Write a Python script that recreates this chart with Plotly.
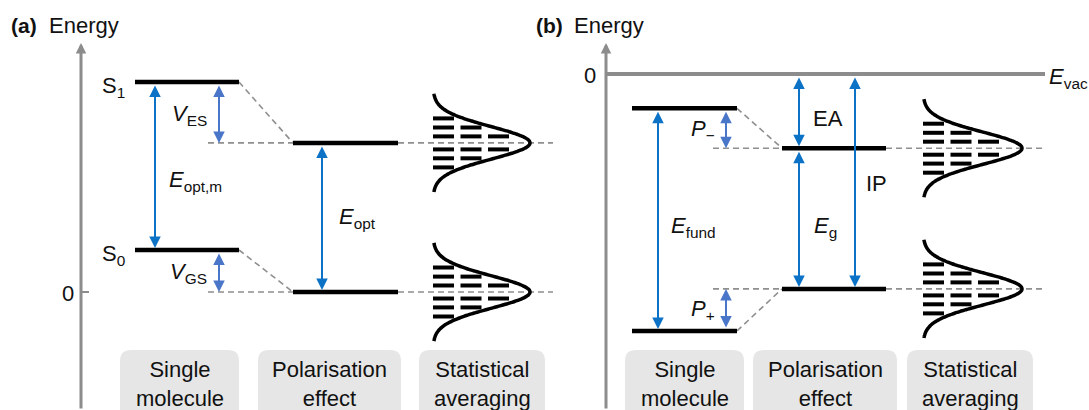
import numpy as np
import plotly.graph_objects as go

# ---------------- data (schematic energies, eV) ----------------
categories = ["Single<br>molecule", "Polarisation<br>effect", "Statistical<br>averaging"]

# (a) optical gap: isolated molecule vs. molecule in the polarisable solid
a_state_names = ["S<sub>0</sub>", "S<sub>1</sub>"]
a_single = [0.60, 3.00]          # S0, S1 of the single molecule
a_polarised = [0.00, 2.13]       # ground / excited state after polarisation

# (b) transport gap, measured from the vacuum level
b_vacuum = 0.0
b_single = [-3.67, -0.49]        # cation-like (IP) and anion-like (EA) levels, single molecule
b_polarised = [-3.07, -1.06]     # the same levels in the solid

# Gaussian density of states and the discrete sub-levels drawn inside it
dos_sigma = 0.23
dos_offsets = [0.35, 0.22, 0.093, -0.093, -0.22, -0.35]
dos_counts = [1, 2, 3, 3, 2, 1]

# ---------------- layout constants ----------------
W, H = 1089, 410
PX_PER_EV = 70.0
FONT = "Liberation Sans, Arial, Helvetica, sans-serif"
BLUE = "#0B72C6"
LIGHT_BLUE = "#4A76C9"
GREY = "#8C8C8C"
DASH_GREY = "#8F8F8F"
BOX_FILL = "#E6E6E6"
TXT = "#111111"

# vertical pixel position of each panel's energy zero
A_ZERO_PX, B_ZERO_PX = 292, 74

PANEL_A = dict(axis=81, single=(135, 239), pol=(293, 398), stub=208, dash_end=553,
               dos_base=433, dos_amp=97,
               boxes=[(120, 239), (258, 401), (419, 545)])
PANEL_B = dict(axis=606, single=(632, 737), pol=(782, 886), stub=713, dash_end=1045,
               dos_base=923, dos_amp=99,
               boxes=[(625, 744), (753, 897), (907, 1033)])


def yrange(zero_px):
    return [(zero_px - H) / PX_PER_EV, zero_px / PX_PER_EV]


def paper(py):
    return 1 - py / H


fig = go.Figure()


def segs(pairs):
    xs, ys = [], []
    for (x0, y0, x1, y1) in pairs:
        xs += [x0, x1, None]
        ys += [y0, y1, None]
    return xs, ys


def add_lines(pairs, yaxis, color, width, dash="solid"):
    xs, ys = segs(pairs)
    fig.add_trace(go.Scatter(x=xs, y=ys, yaxis=yaxis, mode="lines",
                             line=dict(color=color, width=width, dash=dash),
                             hoverinfo="skip", showlegend=False))


def add_arrow(x, e0, e1, yref, color, s0=0, s1=0):
    fig.add_annotation(x=x, y=e1, ax=x, ay=e0, xref="x", yref=yref, axref="x", ayref=yref,
                       text="", showarrow=True, arrowside="end+start",
                       arrowhead=2, startarrowhead=2, arrowsize=1.15, startarrowsize=1.15,
                       arrowwidth=2, arrowcolor=color, standoff=s1, startstandoff=s0)


def add_text(x, y, text, yref, xanchor="left", size=22, yshift=0):
    fig.add_annotation(x=x, y=y, xref="x", yref=yref, text=text, showarrow=False,
                       xanchor=xanchor, yanchor="middle", yshift=yshift,
                       font=dict(family=FONT, size=size, color=TXT))


def add_dos(p, centre, yaxis):
    e = np.linspace(centre - 3.05 * dos_sigma, centre + 3.05 * dos_sigma, 120)
    x = p["dos_base"] + p["dos_amp"] * np.exp(-(e - centre) ** 2 / (2 * dos_sigma ** 2))
    fig.add_trace(go.Scatter(x=x, y=e, yaxis=yaxis, mode="lines",
                             line=dict(color="black", width=3.5, shape="spline"),
                             hoverinfo="skip", showlegend=False))
    pairs = []
    for off, n in zip(dos_offsets, dos_counts):
        for k in range(n):
            x0 = p["dos_base"] + k * 27.5
            pairs.append((x0, centre + off, x0 + 21, centre + off))
    add_lines(pairs, yaxis, "black", 4)


def add_box(x0, x1, text, r=11):
    yt, yb, ry = paper(350), paper(430), r / H
    path = (f"M{x0 + r},{yt} L{x1 - r},{yt} Q{x1},{yt} {x1},{yt - ry} "
            f"L{x1},{yb + ry} Q{x1},{yb} {x1 - r},{yb} L{x0 + r},{yb} "
            f"Q{x0},{yb} {x0},{yb + ry} L{x0},{yt - ry} Q{x0},{yt} {x0 + r},{yt} Z")
    fig.add_shape(type="path", path=path, xref="x", yref="paper",
                  fillcolor=BOX_FILL, line=dict(width=0), layer="below")
    fig.add_annotation(x=(x0 + x1) / 2, y=paper(384), xref="x", yref="paper",
                       text=text, showarrow=False, xanchor="center", yanchor="middle",
                       font=dict(family=FONT, size=22, color=TXT))


def add_energy_axis(p, label):
    fig.add_annotation(x=p["axis"], y=paper(43), xref="x", yref="paper",
                       ax=0, ay=372, axref="pixel", ayref="pixel", text="",
                       showarrow=True, arrowhead=2, arrowsize=0.7, arrowwidth=3,
                       arrowcolor=GREY)
    fig.add_annotation(x=p["axis"] - 72, y=paper(25), xref="x", yref="paper",
                       text=f"<b>{label}</b>", showarrow=False,
                       xanchor="left", yanchor="middle",
                       font=dict(family=FONT, size=21, color=TXT))
    fig.add_annotation(x=p["axis"] - 34, y=paper(25), xref="x", yref="paper",
                       text="Energy", showarrow=False, xanchor="left", yanchor="middle",
                       font=dict(family=FONT, size=22, color=TXT))


# ================= panel (a) =================
pa = PANEL_A
ya = "y"
add_lines([(pa["single"][1], s, pa["pol"][0], p) for s, p in zip(a_single, a_polarised)]
          + [(pa["stub"], p, pa["pol"][0], p) for p in a_polarised]
          + [(pa["pol"][1], p, pa["dash_end"], p) for p in a_polarised],
          ya, DASH_GREY, 1.6, dash="6px,4px")
add_lines([(pa["single"][0], s, pa["single"][1], s) for s in a_single]
          + [(pa["pol"][0], p, pa["pol"][1], p) for p in a_polarised], ya, "black", 4.5)
add_lines([(pa["axis"], 0.0, pa["axis"] + 8, 0.0)], ya, GREY, 2)
for c in a_polarised:
    add_dos(pa, c, ya)

add_arrow(155, a_single[1], a_single[0], ya, BLUE, 2, 2)
add_arrow(219, a_single[1], a_polarised[1], ya, LIGHT_BLUE, 2, 0)
add_arrow(219, a_single[0], a_polarised[0], ya, LIGHT_BLUE, 2, 0)
add_arrow(322, a_polarised[1], a_polarised[0], ya, BLUE, 2, 2)

for name, e in zip(a_state_names, a_single):
    add_text(127, e, name, ya, xanchor="right", yshift=-5)
add_text(76, 0.0, "0", ya, xanchor="right", yshift=-1)
add_text(209, (a_single[1] + a_polarised[1]) / 2, "<i>V</i><sub>ES</sub>", ya,
         xanchor="right", yshift=-3)
add_text(209, (a_single[0] + a_polarised[0]) / 2, "<i>V</i><sub>GS</sub>", ya,
         xanchor="right", yshift=-2)
add_text(167, (a_single[0] + a_single[1]) / 2, "<i>E</i><sub>opt,m</sub>", ya, yshift=-15)
add_text(337, (a_polarised[0] + a_polarised[1]) / 2, "<i>E</i><sub>opt</sub>", ya, yshift=-1)

add_energy_axis(pa, "(a)")
for (x0, x1), t in zip(pa["boxes"], categories):
    add_box(x0, x1, t)

# ================= panel (b) =================
pb = PANEL_B
yb = "y2"
add_lines([(pb["single"][1], s, pb["pol"][0], p) for s, p in zip(b_single, b_polarised)]
          + [(pb["stub"], p, pb["pol"][0], p) for p in b_polarised]
          + [(pb["pol"][1], p, pb["dash_end"], p) for p in b_polarised],
          yb, DASH_GREY, 1.6, dash="6px,4px")
add_lines([(pb["axis"], b_vacuum, pb["dash_end"], b_vacuum)], yb, GREY, 4)
add_lines([(pb["single"][0], s, pb["single"][1], s) for s in b_single]
          + [(pb["pol"][0], p, pb["pol"][1], p) for p in b_polarised], yb, "black", 4.5)
for c in b_polarised:
    add_dos(pb, c, yb)

add_arrow(658, b_single[1], b_single[0], yb, BLUE, 2, 2)
add_arrow(726, b_single[1], b_polarised[1], yb, LIGHT_BLUE, 2, 0)
add_arrow(726, b_single[0], b_polarised[0], yb, LIGHT_BLUE, 2, 0)
add_arrow(799, b_vacuum, b_polarised[1], yb, BLUE, 2, 2)
add_arrow(799, b_polarised[1], b_polarised[0], yb, BLUE, 2, 2)
add_arrow(855, b_vacuum, b_polarised[0], yb, BLUE, 2, 2)

add_text(598, b_vacuum, "0", yb, xanchor="right", yshift=-1)
add_text(1047, b_vacuum, "<i>E</i><sub>vac</sub>", yb, yshift=-4)
add_text(717, (b_single[1] + b_polarised[1]) / 2, "<i>P</i><sub>−</sub>", yb,
         xanchor="right", yshift=-2)
add_text(717, (b_single[0] + b_polarised[0]) / 2, "<i>P</i><sub>+</sub>", yb,
         xanchor="right", yshift=0)
add_text(811, (b_vacuum + b_polarised[1]) / 2, "EA", yb, yshift=-7)
add_text(864, (b_vacuum + b_polarised[0]) / 2, "IP", yb, yshift=-2)
add_text(812, (b_polarised[1] + b_polarised[0]) / 2, "<i>E</i><sub>g</sub>", yb, yshift=-8)
add_text(669, (b_single[1] + b_single[0]) / 2, "<i>E</i><sub>fund</sub>", yb, yshift=-7)

add_energy_axis(pb, "(b)")
for (x0, x1), t in zip(pb["boxes"], categories):
    add_box(x0, x1, t)

fig.update_layout(
    width=W, height=H, margin=dict(l=0, r=0, t=0, b=0),
    paper_bgcolor="white", plot_bgcolor="white",
    xaxis=dict(range=[0, W], visible=False, fixedrange=True),
    yaxis=dict(range=yrange(A_ZERO_PX), visible=False, fixedrange=True),
    yaxis2=dict(range=yrange(B_ZERO_PX), visible=False, overlaying="y", fixedrange=True),
    showlegend=False,
)

fig.write_html("out.html", config={"displayModeBar": False})
